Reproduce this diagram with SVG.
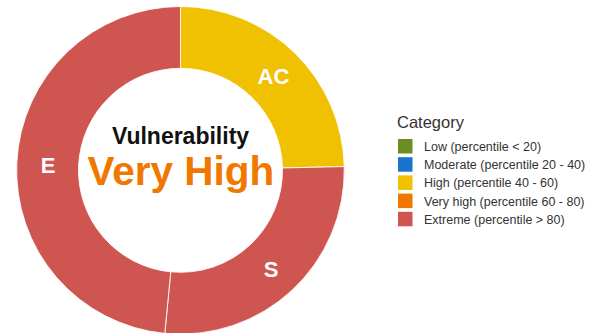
<svg xmlns="http://www.w3.org/2000/svg" width="590" height="333" viewBox="0 0 590 333">
<style>
.seg{stroke:#ffffff;stroke-width:1;stroke-opacity:0.85}
.lbl{font-family:"Liberation Sans",Arial,sans-serif;font-weight:bold;font-size:22px;fill:#ffffff;text-anchor:middle}
.lg{font-family:"Liberation Sans",Arial,sans-serif;font-size:12.5px;fill:#333333}
.sw{stroke:none}
</style>
<rect width="590" height="333" fill="#ffffff"/>
<g id="chart">
<g id="seg-AC">
<path class="seg" fill="#EFC100" d="M180.5,6.5 A163.8,163.8 0 0 1 344.26,166.58 L282.47,167.99 A102,102 0 0 0 180.5,68.3 Z"/>
<text class="lbl" x="273.5" y="83.5">AC</text>
</g>
<g id="seg-S">
<path class="seg" fill="#CF5550" d="M344.26,166.58 A163.8,163.8 0 0 1 164.8,333.35 L170.72,271.83 A102,102 0 0 0 282.47,167.99 Z"/>
<text class="lbl" x="271" y="276.5">S</text>
</g>
<g id="seg-E">
<path class="seg" fill="#CF5550" d="M164.8,333.35 A163.8,163.8 0 0 1 180.5,6.5 L180.5,68.3 A102,102 0 0 0 170.72,271.83 Z"/>
<text class="lbl" x="48" y="172.5">E</text>
</g>
<g id="center-text">
<text x="180.5" y="143.5" font-family="'Liberation Sans',Arial,sans-serif" font-weight="bold" font-size="23" fill="#111111" text-anchor="middle">Vulnerability</text>
<text x="180.8" y="184.5" font-family="'Liberation Sans',Arial,sans-serif" font-weight="bold" font-size="40.5" fill="#F07800" text-anchor="middle">Very High</text>
</g>
</g>
<g id="legend">
<text x="397" y="128" font-family="'Liberation Sans',Arial,sans-serif" font-size="16.5" fill="#333333">Category</text>
<g id="leg-low"><rect class="sw" x="398" y="139" width="14.5" height="14.5" fill="#6B8E23"/><text class="lg" x="424" y="151">Low (percentile &lt; 20)</text></g>
<g id="leg-moderate"><rect class="sw" x="398" y="157.2" width="14.5" height="14.5" fill="#1874CD"/><text class="lg" x="424" y="169.2">Moderate (percentile 20 - 40)</text></g>
<g id="leg-high"><rect class="sw" x="398" y="175.4" width="14.5" height="14.5" fill="#EFC100"/><text class="lg" x="424" y="187.4">High (percentile 40 - 60)</text></g>
<g id="leg-veryhigh"><rect class="sw" x="398" y="193.6" width="14.5" height="14.5" fill="#F07800"/><text class="lg" x="424" y="205.6">Very high (percentile 60 - 80)</text></g>
<g id="leg-extreme"><rect class="sw" x="398" y="211.8" width="14.5" height="14.5" fill="#CF5550"/><text class="lg" x="424" y="223.8">Extreme (percentile &gt; 80)</text></g>
</g>
</svg>
